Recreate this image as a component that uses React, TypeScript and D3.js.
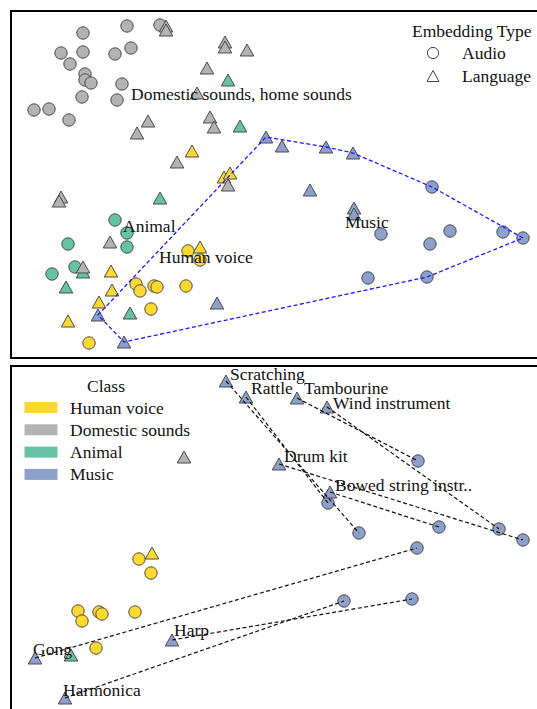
import React from 'react';
import * as d3 from 'd3';

type P = [number, number];

const classNames = ['Human voice', 'Domestic sounds', 'Animal', 'Music'];
const classColors = ['#FFD92F', '#B3B3B3', '#66C2A5', '#8DA0CB'];

// ---------- Top panel (all classes) ----------
const topAudioHuman: P[] = [
  [35.4, 21.4], [37.8, 19.6], [25.0, 14.8], [25.8, 13.4], [28.6, 14.4],
  [29.2, 14.2], [35.0, 14.4], [28.0, 9.8], [15.6, 3.0],
];
const topAudioDomestic: P[] = [
  [14.4, 65.0], [23.2, 66.4], [29.8, 66.6], [10.0, 61.0], [14.4, 61.2],
  [20.8, 60.8], [24.0, 62.0], [11.8, 58.8], [14.8, 56.8], [14.8, 55.6],
  [16.0, 55.0], [22.2, 54.8], [14.2, 52.2], [21.2, 51.6], [4.6, 49.6],
  [7.6, 49.8], [11.6, 47.6],
];
const topAudioAnimal: P[] = [
  [20.8, 27.6], [23.2, 25.0], [11.4, 22.8], [23.2, 22.2], [12.8, 18.2], [8.2, 16.8],
];
const topAudioMusic: P[] = [
  [84.2, 34.2], [74.0, 24.8], [87.8, 25.4], [83.8, 22.8], [98.4, 25.2],
  [102.4, 24.0], [71.4, 16.0], [83.2, 16.2],
];
const topLangHuman: P[] = [
  [36.2, 41.4], [42.6, 36.2], [43.8, 37.0], [37.8, 22.2], [20.0, 17.4],
  [20.2, 13.6], [17.6, 11.2], [11.4, 7.4],
];
const topLangDomestic: P[] = [
  [31.0, 66.4], [31.0, 65.6], [42.8, 63.2], [42.8, 62.2], [47.2, 61.6],
  [39.2, 58.0], [37.2, 53.0], [39.8, 48.2], [40.6, 46.2], [27.4, 47.4],
  [25.2, 45.0], [33.2, 39.2], [43.4, 34.6], [10.0, 32.2], [9.6, 31.4],
  [19.8, 23.2], [14.4, 18.2],
];
const topLangAnimal: P[] = [
  [43.4, 55.6], [45.8, 46.4], [29.8, 32.0], [14.4, 17.2], [11.0, 14.2], [23.8, 9.0],
];
const topLangMusic: P[] = [
  [51.0, 44.2], [54.2, 42.4], [63.0, 42.2], [68.4, 41.0], [59.8, 33.6],
  [68.6, 30.0], [68.6, 28.8], [41.2, 11.0], [17.4, 8.6], [22.6, 3.2],
];
const topClassLabels = ['Domestic sounds, home sounds', 'Animal', 'Human voice', 'Music'];
const topClassLabelPos: P[] = [[24.0, 52.8], [22.4, 26.4], [29.6, 20.2], [66.8, 27.2]];

const embeddingLegendTitle = 'Embedding Type';
const embeddingTypes = ['Audio', 'Language'];

// ---------- Bottom panel (Music instruments) ----------
const instruments = [
  'Scratching', 'Rattle', 'Tambourine', 'Wind instrument', 'Drum kit',
  'Bowed string instr..', 'Gong', 'Harp', 'Harmonica',
];
const instrumentLang: P[] = [
  [43.0, 66.8], [47.0, 63.6], [57.2, 63.4], [63.2, 61.6], [53.6, 50.2],
  [63.8, 44.6], [4.8, 11.4], [32.2, 15.0], [10.8, 3.4],
];
const instrumentAudio: P[] = [
  [69.6, 36.4], [63.4, 42.4], [81.4, 50.8], [97.6, 37.2], [102.4, 35.0],
  [85.6, 37.6], [81.2, 33.4], [80.2, 23.2], [66.6, 22.8],
];
const instrumentLabelPos: P[] = [
  [43.8, 68.2], [48.0, 65.4], [58.6, 65.4], [64.4, 62.4], [54.6, 51.8],
  [64.8, 46.0], [4.4, 13.2], [32.6, 17.0], [10.4, 5.0],
];
const bottomAudioHuman: P[] = [
  [25.6, 31.2], [28.0, 28.4], [13.4, 20.8], [14.2, 18.8], [17.6, 20.6],
  [18.2, 20.2], [24.8, 20.6], [17.0, 13.4],
];
const bottomLangHuman: P[] = [[28.2, 32.4]];
const bottomLangDomestic: P[] = [[34.6, 51.6]];
const bottomLangAnimal: P[] = [[12.0, 12.0]];

const W = 537;
const H = 709;
const FONT = '"Liberation Serif", "Times New Roman", serif';
const STROKE = '#4a4a4a';
const FS = 17.5;

const xScale = d3.scaleLinear().domain([0, 106]).range([11, 541]);
const yTop = d3.scaleLinear().domain([0, 69.6]).range([358, 10]);
const yBot = d3.scaleLinear().domain([0, 70]).range([715, 365]);

const triPath = (cx: number, cy: number, w = 13.5, h = 12) =>
  `M${cx},${cy - h / 2}L${cx + w / 2},${cy + h / 2}L${cx - w / 2},${cy + h / 2}Z`;

function Circles({ pts, color, y }: { pts: P[]; color: string; y: d3.ScaleLinear<number, number> }) {
  return (
    <g>
      {pts.map((p, i) => (
        <circle key={i} cx={xScale(p[0])} cy={y(p[1])} r={6.2} fill={color} stroke={STROKE} strokeWidth={1} />
      ))}
    </g>
  );
}
function Tris({ pts, color, y }: { pts: P[]; color: string; y: d3.ScaleLinear<number, number> }) {
  return (
    <g>
      {pts.map((p, i) => (
        <path key={i} d={triPath(xScale(p[0]), y(p[1]))} fill={color} stroke={STROKE} strokeWidth={1} strokeLinejoin="miter" />
      ))}
    </g>
  );
}

export default function App() {
  const allMusic = [...topAudioMusic, ...topLangMusic].map((p) => [xScale(p[0]), yTop(p[1])] as [number, number]);
  const hull = d3.polygonHull(allMusic) || [];
  const hullPath = hull.length ? 'M' + hull.map((p) => p.join(',')).join('L') + 'Z' : '';

  return (
    <svg width={W} height={H} style={{ position: 'absolute', left: 0, top: 0, background: '#fff' }}
      fontFamily={FONT}>
      <rect x={0} y={0} width={W} height={H} fill="#fff" />
      {/* ---------- Top panel ---------- */}
      <g>
        <Circles pts={topAudioDomestic} color={classColors[1]} y={yTop} />
        <Circles pts={topAudioAnimal} color={classColors[2]} y={yTop} />
        <Circles pts={topAudioHuman} color={classColors[0]} y={yTop} />
        <Circles pts={topAudioMusic} color={classColors[3]} y={yTop} />
        <Tris pts={topLangHuman} color={classColors[0]} y={yTop} />
        <Tris pts={topLangAnimal} color={classColors[2]} y={yTop} />
        <Tris pts={topLangDomestic} color={classColors[1]} y={yTop} />
        <Tris pts={topLangMusic} color={classColors[3]} y={yTop} />
        <path d={hullPath} fill="none" stroke="#1a1aff" strokeWidth={1.3} strokeDasharray="4,2.5" />
        {topClassLabels.map((t, i) => (
          <text key={t} x={xScale(topClassLabelPos[i][0])} y={yTop(topClassLabelPos[i][1])}
            dominantBaseline="central" fontSize={FS} fill="#111">{t}</text>
        ))}
        {/* legend */}
        <text x={412} y={31} dominantBaseline="central" fontSize={FS} fill="#111">{embeddingLegendTitle}</text>
        <circle cx={433} cy={53} r={5.6} fill="none" stroke="#444" strokeWidth={1} />
        <path d={triPath(433, 76, 12, 11)} fill="none" stroke="#444" strokeWidth={1} />
        {embeddingTypes.map((t, i) => (
          <text key={t} x={462} y={53 + i * 22.5} dominantBaseline="central" fontSize={FS} fill="#111">{t}</text>
        ))}
        <rect x={11} y={11} width={W + 10} height={347} fill="none" stroke="#000" strokeWidth={2} />
      </g>

      {/* ---------- Bottom panel ---------- */}
      <g>
        <Circles pts={bottomAudioHuman} color={classColors[0]} y={yBot} />
        <Circles pts={instrumentAudio} color={classColors[3]} y={yBot} />
        <Tris pts={bottomLangHuman} color={classColors[0]} y={yBot} />
        <Tris pts={bottomLangDomestic} color={classColors[1]} y={yBot} />
        <Tris pts={bottomLangAnimal} color={classColors[2]} y={yBot} />
        <Tris pts={instrumentLang} color={classColors[3]} y={yBot} />
        {instrumentLang.map((p, i) => (
          <line key={i} x1={xScale(p[0])} y1={yBot(p[1])} x2={xScale(instrumentAudio[i][0])} y2={yBot(instrumentAudio[i][1])}
            stroke="#111" strokeWidth={1.2} strokeDasharray="4,2.5" />
        ))}
        {instruments.map((t, i) => (
          <text key={t} x={xScale(instrumentLabelPos[i][0])} y={yBot(instrumentLabelPos[i][1])}
            dominantBaseline="central" fontSize={FS} fill="#111">{t}</text>
        ))}
        {/* class legend */}
        <text x={106} y={386} textAnchor="middle" dominantBaseline="central" fontSize={FS} fill="#111">Class</text>
        {classNames.map((c, i) => (
          <g key={c}>
            <rect x={24.5} y={402 + i * 22.3} width={33} height={11} fill={classColors[i]} />
            <text x={70} y={407.5 + i * 22.3} dominantBaseline="central" fontSize={FS} fill="#111">{c}</text>
          </g>
        ))}
        <rect x={11} y={366} width={W + 10} height={360} fill="none" stroke="#000" strokeWidth={2} />
      </g>
    </svg>
  );
}
